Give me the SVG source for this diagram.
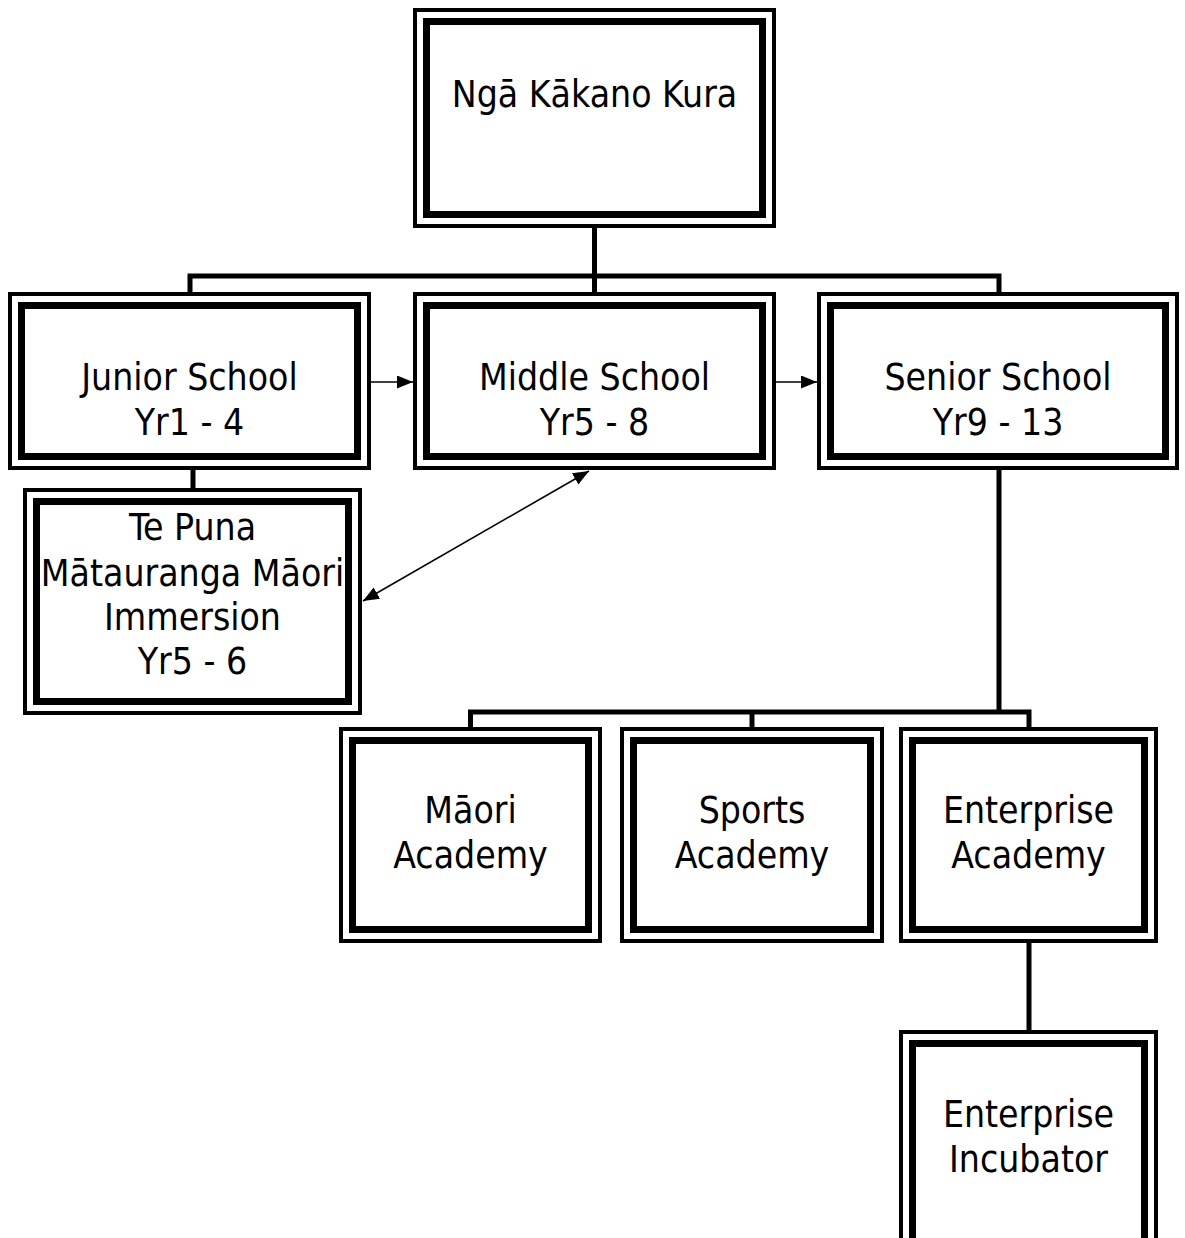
<svg xmlns="http://www.w3.org/2000/svg" width="1185" height="1238" viewBox="0 0 1185 1238">
<style>
.o{fill:#fff;stroke:#000;stroke-width:4}
.i{fill:none;stroke:#000;stroke-width:7}
.t{font-family:"DejaVu Sans Condensed","DejaVu Sans",sans-serif;font-stretch:condensed;font-size:37px;text-anchor:middle;fill:#000}
.c{fill:none;stroke:#000;stroke-width:5}
.a{fill:none;stroke:#000;stroke-width:1.6}
</style>
<defs>
<marker id="ah" viewBox="0 0 16 13" refX="16" refY="6.5" markerWidth="16" markerHeight="13" markerUnits="userSpaceOnUse" orient="auto-start-reverse">
<path d="M0 0L16 6.5L0 13z" fill="#000"/>
</marker>
</defs>
<rect width="1185" height="1238" fill="#fff"/>
<g id="connectors">
<path class="c" d="M594.5 228V300M190 300V276H999V300"/>
<path class="c" d="M193 470V491"/>
<path class="c" d="M999 470V712M470.5 733V712H1029V733M752 712V733"/>
<path class="c" d="M1029 943V1035"/>
<path class="a" d="M371 382H413" marker-end="url(#ah)"/>
<path class="a" d="M776 382H817" marker-end="url(#ah)"/>
<path class="a" d="M363 601L589 471" marker-start="url(#ah)" marker-end="url(#ah)"/>
</g>
<g id="n-top">
<rect class="o" x="415" y="10" width="359" height="216"/>
<rect class="i" x="426.5" y="21.5" width="336" height="193"/>
<text class="t" x="594.5" y="107">Ngā Kākano Kura</text>
</g>
<g id="n-junior">
<rect class="o" x="10" y="294" width="359" height="174"/>
<rect class="i" x="21.5" y="305.5" width="336" height="151"/>
<text class="t" x="189.5" y="390">Junior School</text>
<text class="t" x="189.5" y="435">Yr1 - 4</text>
</g>
<g id="n-middle">
<rect class="o" x="415" y="294" width="359" height="174"/>
<rect class="i" x="426.5" y="305.5" width="336" height="151"/>
<text class="t" x="594.5" y="390">Middle School</text>
<text class="t" x="594.5" y="435">Yr5 - 8</text>
</g>
<g id="n-senior">
<rect class="o" x="819" y="294" width="358" height="174"/>
<rect class="i" x="830.5" y="305.5" width="335" height="151"/>
<text class="t" x="998" y="390">Senior School</text>
<text class="t" x="998" y="435">Yr9 - 13</text>
</g>
<g id="n-tepuna">
<rect class="o" x="25" y="490" width="335" height="223"/>
<rect class="i" x="36.5" y="501.5" width="312" height="200"/>
<text class="t" x="192.5" y="540">Te Puna</text>
<text class="t" x="192.5" y="586">Mātauranga Māori</text>
<text class="t" x="192.5" y="630">Immersion</text>
<text class="t" x="192.5" y="674">Yr5 - 6</text>
</g>
<g id="n-maori">
<rect class="o" x="341" y="729" width="259" height="212"/>
<rect class="i" x="352.5" y="740.5" width="236" height="189"/>
<text class="t" x="470.5" y="823">Māori</text>
<text class="t" x="470.5" y="868">Academy</text>
</g>
<g id="n-sports">
<rect class="o" x="622" y="729" width="260" height="212"/>
<rect class="i" x="633.5" y="740.5" width="237" height="189"/>
<text class="t" x="752" y="823">Sports</text>
<text class="t" x="752" y="868">Academy</text>
</g>
<g id="n-enterprise">
<rect class="o" x="901" y="729" width="255" height="212"/>
<rect class="i" x="912.5" y="740.5" width="232" height="189"/>
<text class="t" x="1028.5" y="823">Enterprise</text>
<text class="t" x="1028.5" y="868">Academy</text>
</g>
<g id="n-incubator">
<rect class="o" x="901" y="1032" width="255" height="230"/>
<rect class="i" x="912.5" y="1043.5" width="232" height="207"/>
<text class="t" x="1028.5" y="1127">Enterprise</text>
<text class="t" x="1028.5" y="1172">Incubator</text>
</g>
</svg>
